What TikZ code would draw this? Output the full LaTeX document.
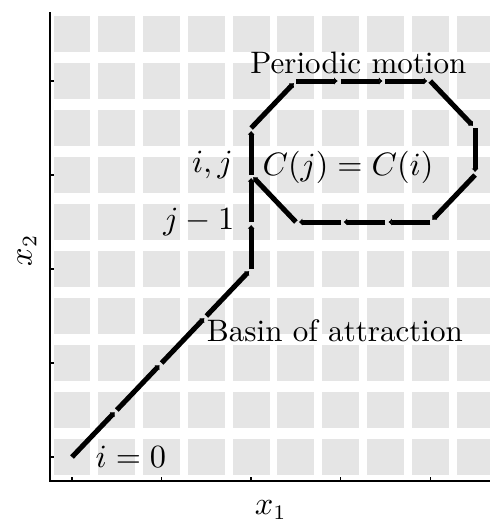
\documentclass[tikz,border=0pt]{standalone}
\usetikzlibrary{positioning,arrows.meta}

\tikzset{
  cell/.style={fill=gray!20},
  seg/.style={line width=1.7pt, shorten >=1pt, -{Latex[length=1.2pt,width=2.5pt]}},
  lbl/.style={inner sep=0pt, font=\fontsize{10.5}{12}\selectfont}
}

\begin{document}
\begin{tikzpicture}[x=30.3pt, y=31.8pt]
\useasboundingbox (-0.804,-0.670) rectangle (4.665,4.862);
\clip (-0.804,-0.670) rectangle (4.665,4.862);
% grid cells
\foreach \i in {0,...,9}
  \foreach \j in {0,...,9}
    \fill[cell] (0.5*\i,0.5*\j) ++(-6.25pt,-6.25pt) rectangle ++(12.5pt,12.5pt);
% axes
\coordinate (ytop) at (-0.2455,4.734);
\coordinate (orig) at (-0.2455,-0.255);
\coordinate (xend) at (4.7,-0.255);
\draw[line width=0.5pt] (ytop) -- (orig) -- (xend);
\foreach \t in {0,...,4} {
  \draw[line width=0.5pt] (\t,-0.255) -- ++(0,1.5pt);
  \draw[line width=0.5pt] (-0.2455,\t) -- ++(1.5pt,0);
}
\node (xlab) [lbl] at (2.22,-0.564) {$x_1$};
\node (ylab) [lbl, rotate=90] at (-0.502,2.2) {$x_2$};
% trajectory points
\coordinate (p0) at (0,0);
\coordinate (p1) at (0.5,0.5);
\coordinate (p2) at (1,1);
\coordinate (p3) at (1.5,1.5);
\coordinate (p4) at (2,2);
\coordinate (p5) at (2,2.5);
\coordinate (p6) at (2,3);
\coordinate (p7) at (2,3.5);
\coordinate (p8) at (2.5,4);
\coordinate (p9) at (3,4);
\coordinate (p10) at (3.5,4);
\coordinate (p11) at (4,4);
\coordinate (p12) at (4.5,3.5);
\coordinate (p13) at (4.5,3);
\coordinate (p14) at (4,2.5);
\coordinate (p15) at (3.5,2.5);
\coordinate (p16) at (3,2.5);
\coordinate (p17) at (2.5,2.5);
% basin of attraction
\draw[seg] (p0) -- (p1);
\draw[seg] (p1) -- (p2);
\draw[seg] (p2) -- (p3);
\draw[seg] (p3) -- (p4);
\draw[seg] (p4) -- (p5);
\draw[seg] (p5) -- (p6);
% periodic motion
\draw[seg] (p6) -- (p7);
\draw[seg] (p7) -- (p8);
\draw[seg] (p8) -- (p9);
\draw[seg] (p9) -- (p10);
\draw[seg] (p10) -- (p11);
\draw[seg] (p11) -- (p12);
\draw[seg] (p12) -- (p13);
\draw[seg] (p13) -- (p14);
\draw[seg] (p14) -- (p15);
\draw[seg] (p15) -- (p16);
\draw[seg] (p16) -- (p17);
\draw[seg] (p17) -- (p6);
% labels
\node (start) [lbl, right=7.8pt of p0] {$i=0$};
\node (basin) [lbl, anchor=west, yshift=-5pt] at (p3) {Basin of attraction};
\node (jm1) [lbl, left=5.5pt of p5] {$j-1$};
\node (ij) [lbl, left=6pt of p6, yshift=3.4pt] {$i,j$};
\node (cji) [lbl, right=3.7pt of p6, yshift=2.7pt] {$C(j)=C(i)$};
\node (periodic) [lbl] at (3.197,4.19) {Periodic motion};
\end{tikzpicture}
\end{document}
